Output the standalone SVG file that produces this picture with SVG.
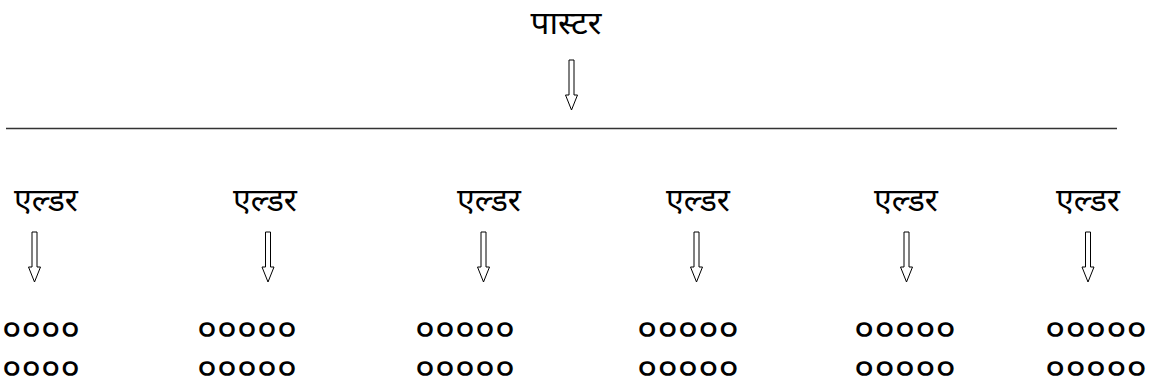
<svg xmlns="http://www.w3.org/2000/svg" width="1149" height="383" viewBox="0 0 1149 383">
<style>
.lbl{font-family:"Noto Sans Devanagari","Noto Sans","DejaVu Sans",sans-serif;font-size:32px;fill:#000;text-anchor:middle}
.dots{font-family:"Noto Sans Devanagari","Noto Sans","DejaVu Sans",sans-serif;font-size:36px;fill:#000}
.arr{fill:#fff;stroke:#000;stroke-width:1}
</style>
<defs>
<path id="ar" class="arr" d="M-2.5,0 H2.5 V35 H6 L0,50 L-6,35 H-2.5 Z"/>
</defs>
<rect width="1149" height="383" fill="#fff"/>
<g id="pastor"><text class="lbl" x="566" y="34" textLength="71" lengthAdjust="spacingAndGlyphs">पास्टर</text></g>
<g id="elder1"><text class="lbl" x="46" y="211">एल्डर</text></g>
<g id="elder2"><text class="lbl" x="265" y="211">एल्डर</text></g>
<g id="elder3"><text class="lbl" x="489" y="211">एल्डर</text></g>
<g id="elder4"><text class="lbl" x="698" y="211">एल्डर</text></g>
<g id="elder5"><text class="lbl" x="906" y="211">एल्डर</text></g>
<g id="elder6"><text class="lbl" x="1088" y="211">एल्डर</text></g>
<g id="members">
<text class="dots" x="2" y="342" textLength="78" lengthAdjust="spacingAndGlyphs">००००</text>
<text class="dots" x="2" y="381" textLength="78" lengthAdjust="spacingAndGlyphs">००००</text>
<text class="dots" x="197" y="342" textLength="100" lengthAdjust="spacingAndGlyphs">०००००</text>
<text class="dots" x="197" y="381" textLength="100" lengthAdjust="spacingAndGlyphs">०००००</text>
<text class="dots" x="415" y="342" textLength="100" lengthAdjust="spacingAndGlyphs">०००००</text>
<text class="dots" x="415" y="381" textLength="100" lengthAdjust="spacingAndGlyphs">०००००</text>
<text class="dots" x="637" y="342" textLength="102" lengthAdjust="spacingAndGlyphs">०००००</text>
<text class="dots" x="637" y="381" textLength="102" lengthAdjust="spacingAndGlyphs">०००००</text>
<text class="dots" x="854" y="342" textLength="102" lengthAdjust="spacingAndGlyphs">०००००</text>
<text class="dots" x="854" y="381" textLength="102" lengthAdjust="spacingAndGlyphs">०००००</text>
<text class="dots" x="1045" y="342" textLength="102" lengthAdjust="spacingAndGlyphs">०००००</text>
<text class="dots" x="1045" y="381" textLength="102" lengthAdjust="spacingAndGlyphs">०००००</text>
</g>
<g id="connectors">
<use href="#ar" x="571.5" y="60"/>
<line x1="6" y1="128.5" x2="1117" y2="128.5" stroke="#333" stroke-width="1.4"/>
<use href="#ar" x="34.5" y="232"/>
<use href="#ar" x="268" y="232"/>
<use href="#ar" x="483.5" y="232"/>
<use href="#ar" x="696.5" y="232"/>
<use href="#ar" x="906.5" y="232"/>
<use href="#ar" x="1088" y="232"/>
</g>
</svg>
